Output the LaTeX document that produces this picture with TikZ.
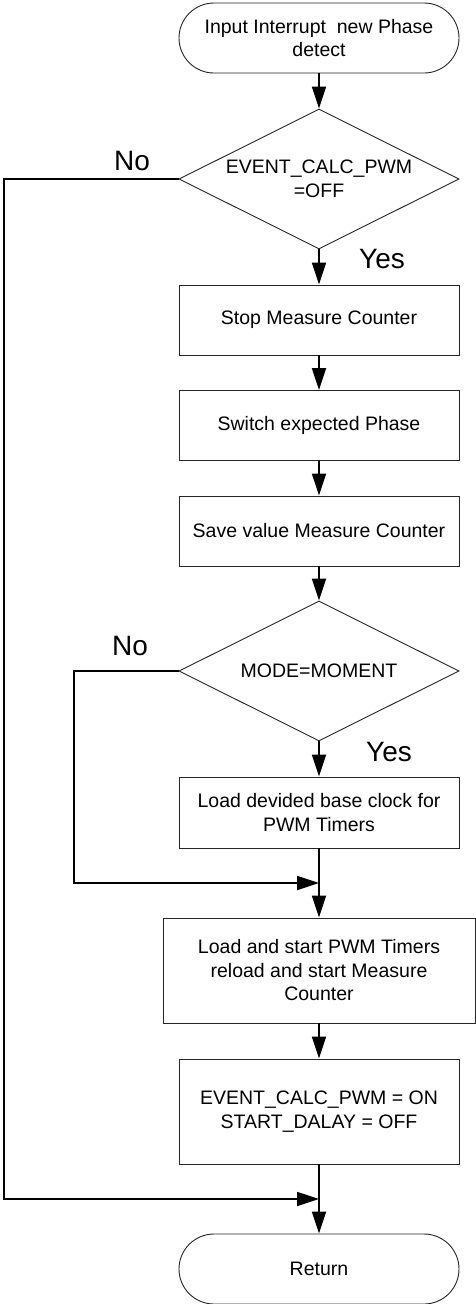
\documentclass[tikz,border=0pt]{standalone}
\usepackage{fontspec}
\setmainfont{Liberation Sans}
\usetikzlibrary{shapes.geometric,arrows.meta}
\begin{document}
\begin{tikzpicture}[x=1pt,y=-1pt,
  every node/.style={font=\fontsize{19.5}{23.5}\selectfont},
  procbox/.style={draw=black!85,line width=0.9pt,rectangle,inner sep=0pt,minimum width=280pt,minimum height=70pt,align=center},
  termbox/.style={draw=black!85,line width=0.9pt,rectangle,rounded corners=35pt,inner sep=0pt,minimum width=280pt,minimum height=70pt,align=center},
  decbox/.style={draw=black!85,line width=0.9pt,diamond,inner sep=0pt,minimum width=280pt,minimum height=140pt},
  dectext/.style={inner sep=0pt,align=center},
  lbl/.style={inner sep=0pt,font=\fontsize{28}{32}\selectfont},
  arr/.style={line width=1.8pt,-{Triangle[length=22pt,width=14pt]}},
  ln/.style={line width=1.8pt}
]
\useasboundingbox (0,0) rectangle (475,1304);

\node[termbox] (start) at (319,38) {Input Interrupt\ \ new Phase\\detect};
\node[decbox] (d1) at (319,179) {};
\node[dectext] (d1t) at (d1) {EVENT\_CALC\_PWM\\=OFF};
\node[procbox] (b1) at (319,320) {Stop Measure Counter};
\node[procbox] (b2) at (319,425.5) {Switch expected Phase};
\node[procbox] (b3) at (319,531) {Save value Measure Counter};
\node[decbox] (d2) at (319,671) {};
\node[dectext] (d2t) at (d2) {MODE=MOMENT};
\node[procbox,minimum height=71pt] (b4) at (319,812.5) {Load devided base clock for\\PWM Timers};
\node[procbox,minimum width=312pt,minimum height=105pt] (b5) at (319,970.5) {Load and start PWM Timers\\reload and start Measure\\Counter};
\node[procbox,minimum height=105pt] (b6) at (319,1111.5) {EVENT\_CALC\_PWM = ON\\START\_DALAY = OFF};
\node[termbox] (ret) at (319,1269) {Return};

\node[lbl] (no1) at (132,161) {No};
\node[lbl] (yes1) at (382,259) {Yes};
\node[lbl] (no2) at (130,646) {No};
\node[lbl] (yes2) at (389,752) {Yes};

\coordinate (c1) at (4,179);
\coordinate (j2) at (319,1199);
\coordinate (c2) at (74,671);
\coordinate (j1) at (319,883);

\draw[arr] (start.south) -- (d1.north);
\draw[arr] (d1.south) -- (b1.north);
\draw[arr] (b1.south) -- (b2.north);
\draw[arr] (b2.south) -- (b3.north);
\draw[arr] (b3.south) -- (d2.north);
\draw[arr] (d2.south) -- (b4.north);
\draw[arr] (b4.south) -- (b5.north);
\draw[arr] (b5.south) -- (b6.north);
\draw[arr] (b6.south) -- (ret.north);
\draw[arr] (d1.west) -- (c1) |- (j2);
\draw[arr] (d2.west) -- (c2) |- (j1);
\end{tikzpicture}
\end{document}
